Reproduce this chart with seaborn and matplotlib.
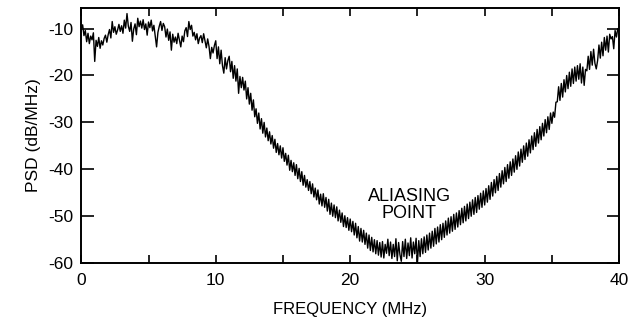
#!/usr/bin/env python3
"""PSD of sampled signal showing the aliasing point near 24 MHz."""

import numpy as np
import pandas as pd
import matplotlib
matplotlib.use("Agg")
import matplotlib.pyplot as plt
import seaborn as sns
from matplotlib.ticker import MultipleLocator

# PSD readings (dB/MHz), one value every 0.1 MHz
psd_0_10 = [
    -10.0, -9.2, -11.5, -10.4, -12.8, -11.0, -13.2, -11.6, -12.4, -10.9,
    -17.0, -12.5, -13.8, -11.9, -14.2, -12.6, -13.5, -12.1, -11.4, -12.9,
    -11.3, -10.2, -12.0, -8.5, -10.8, -9.6, -11.2, -10.3, -9.1, -10.6,
    -9.4, -11.0, -8.2, -9.9, -6.8, -9.5, -10.6, -8.7, -12.7, -10.1,
    -9.0, -11.3, -7.8, -9.6, -8.4, -9.9, -8.1, -10.2, -9.0, -11.4,
    -8.6, -9.8, -8.2, -10.5, -9.3, -11.6, -13.9, -10.8, -9.5, -8.5,
    -10.4, -8.9, -9.6, -11.8, -10.1, -12.5, -10.7, -14.6, -11.2, -12.9,
    -11.8, -13.2, -11.0, -12.4, -13.9, -11.6, -12.8, -10.5, -9.8, -11.7,
    -8.5, -10.2, -9.3, -11.6, -10.8, -12.4, -11.1, -13.2, -12.0, -11.5,
    -13.0, -11.1, -12.6, -14.1, -12.2, -13.8, -16.4, -14.0, -15.2, -13.6,
]
psd_10_20 = [
    -12.6, -16.4, -13.9, -17.5, -14.6, -17.9, -19.5, -16.2, -18.6, -16.8,
    -15.9, -19.2, -17.0, -20.6, -17.9, -21.2, -18.6, -23.8, -20.2, -22.6,
    -20.4, -23.1, -21.2, -25.0, -22.6, -26.1, -23.8, -27.4, -25.2, -28.8,
    -27.1, -30.2, -28.0, -31.4, -29.2, -32.3, -30.0, -33.1, -31.2, -33.9,
    -32.0, -34.6, -32.8, -35.5, -33.6, -36.4, -34.5, -36.9, -35.0, -37.6,
    -35.4, -38.3, -36.6, -39.1, -37.0, -40.2, -38.1, -40.5, -38.6, -41.3,
    -39.0, -42.0, -39.8, -42.6, -40.5, -43.4, -41.3, -43.8, -42.2, -44.5,
    -42.6, -45.2, -43.1, -45.9, -44.0, -46.5, -44.4, -47.4, -45.3, -47.8,
    -45.2, -48.1, -46.0, -48.9, -46.4, -49.6, -47.2, -50.0, -47.6, -50.3,
    -48.0, -51.0, -48.7, -51.3, -49.3, -52.2, -49.9, -52.4, -50.3, -53.0,
]
psd_20_30 = [
    -50.6, -53.3, -51.1, -54.0, -51.5, -54.6, -52.2, -55.3, -52.6, -55.5,
    -53.0, -56.0, -53.6, -56.8, -54.0, -57.3, -54.5, -57.6, -55.0, -58.0,
    -55.2, -58.3, -55.6, -58.7, -55.4, -58.9, -56.0, -57.9, -54.9, -58.4,
    -55.5, -59.0, -56.0, -58.6, -54.8, -59.5, -55.6, -58.2, -59.6, -55.4,
    -58.6, -54.9, -59.0, -55.7, -58.4, -54.6, -58.9, -55.5, -58.0, -54.7,
    -60.0, -55.2, -58.6, -54.8, -58.0, -54.4, -57.7, -54.0, -57.2, -53.6,
    -56.8, -53.2, -56.4, -52.6, -55.9, -52.3, -55.5, -51.8, -55.0, -51.5,
    -54.5, -51.0, -54.0, -50.4, -53.6, -50.1, -53.2, -49.6, -52.8, -49.3,
    -52.3, -48.8, -51.8, -48.3, -51.4, -47.9, -51.0, -47.4, -50.5, -47.0,
    -50.0, -46.5, -49.6, -46.0, -49.2, -45.6, -48.5, -45.1, -48.1, -44.6,
]
psd_30_40 = [
    -47.6, -44.1, -47.0, -43.5, -46.4, -42.8, -45.7, -42.2, -45.0, -41.5,
    -44.5, -40.9, -43.8, -40.3, -43.1, -39.6, -42.6, -39.0, -41.9, -38.4,
    -41.3, -37.8, -40.6, -37.1, -40.0, -36.3, -39.3, -35.7, -38.5, -35.0,
    -37.9, -34.4, -37.2, -33.7, -36.5, -32.9, -35.8, -32.2, -35.1, -31.5,
    -34.4, -30.9, -33.7, -30.2, -32.9, -29.4, -32.2, -28.8, -31.5, -28.0,
    -30.2, -27.8, -28.9, -25.7, -25.6, -22.4, -25.3, -21.7, -24.6, -20.9,
    -23.5, -20.0, -22.8, -19.3, -22.3, -18.6, -21.7, -18.2, -21.2, -17.9,
    -20.8, -17.5, -21.6, -18.2, -22.1, -18.7, -19.0, -15.9, -18.7, -14.9,
    -17.8, -14.4, -17.4, -18.6, -16.8, -13.5, -16.3, -12.9, -15.8, -11.9,
    -14.6, -11.6, -15.0, -11.2, -12.2, -11.7, -14.3, -10.4, -11.8, -10.0,
    -10.3,
]

psd_db = psd_0_10 + psd_10_20 + psd_20_30 + psd_30_40
freq_mhz = np.linspace(0, 40, len(psd_db))

x_major_ticks = [0, 10, 20, 30, 40]
y_ticks = [-60, -50, -40, -30, -20, -10]

sns.set_style("ticks")
plt.rcParams['font.family'] = ['Liberation Sans', 'DejaVu Sans']
plt.rcParams['axes.unicode_minus'] = False
plt.rcParams['text.color'] = 'black'
plt.rcParams['axes.labelcolor'] = 'black'
plt.rcParams['xtick.color'] = 'black'
plt.rcParams['ytick.color'] = 'black'


def main():
    df = pd.DataFrame({'freq': freq_mhz, 'psd': psd_db})

    fig = plt.figure(figsize=(6.35, 3.31), dpi=100)
    ax = fig.add_axes([0.128, 0.205, 0.847, 0.771])

    sns.lineplot(data=df, x='freq', y='psd', color='black', linewidth=1.0, ax=ax)

    ax.set_xlim(0, 40)
    ax.set_ylim(-60, -5.6)
    ax.set_xticks(x_major_ticks)
    ax.xaxis.set_minor_locator(MultipleLocator(5))
    ax.set_yticks(y_ticks)

    ax.tick_params(axis='both', which='both', direction='in', top=True, right=True,
                   width=1.2, labelsize=12.5)
    ax.tick_params(axis='x', which='both', length=6, pad=7)
    ax.tick_params(axis='y', which='major', length=9, pad=6)
    for spine in ax.spines.values():
        spine.set_visible(True)
        spine.set_linewidth(1.4)
        spine.set_color('black')

    ax.set_xlabel('FREQUENCY (MHz)', fontsize=12, labelpad=10)
    ax.set_ylabel('PSD (dB/MHz)', fontsize=12.5, labelpad=5)

    ax.text(24.4, -47.5, 'ALIASING\nPOINT', ha='center', va='center',
            fontsize=13, linespacing=1.0)

    fig.savefig('out.png', dpi=100)
    plt.close(fig)


if __name__ == "__main__":
    main()
